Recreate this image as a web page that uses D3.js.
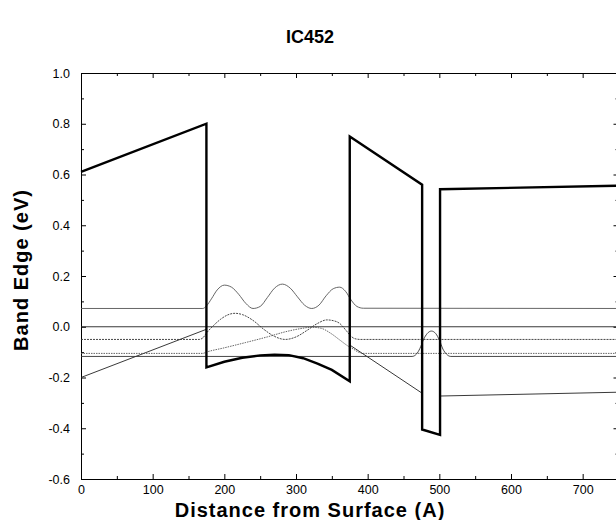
<!DOCTYPE html>
<html>
<head>
<meta charset="utf-8">
<script src="https://cdn.jsdelivr.net/npm/d3@7"></script>
<style>
  body { margin: 0; background: #fff; }
  svg { font-family: "Liberation Sans", Arial, sans-serif; }
</style>
</head>
<body>
<svg id="chart" width="616" height="520"></svg>
<script>
// tick values
var xMajor = [0, 100, 200, 300, 400, 500, 600, 700];
var xMinor = [50, 150, 250, 350, 450, 550, 650, 750];
var yMajor = [-0.6, -0.4, -0.2, 0.0, 0.2, 0.4, 0.6, 0.8, 1.0];
var yMinor = [-0.5, -0.3, -0.1, 0.1, 0.3, 0.5, 0.7, 0.9];

// conduction band edge (thick line)
var condBand = [[0, 0.61], [175, 0.80], [175, -0.16], [200, -0.138], [225, -0.122],
	[250, -0.113], [270, -0.110], [290, -0.112], [310, -0.124], [330, -0.145],
	[350, -0.170], [375, -0.215], [375, 0.75], [476, 0.56], [476, -0.405],
	[501, -0.426], [501, 0.542], [750, 0.556]];

// lower band edge (thin, leaves the frame inside the wells)
var lowBand = [[0, -0.20], [175, -0.01], null, [375, -0.072], [476, -0.262], null,
	[501, -0.273], [750, -0.258]];

// fermi level
var fermi = [[0, 0.0], [750, 0.0]];

// subband levels with |psi|^2 drawn on top
var state3 = [[0, 0.072], [170, 0.072], [175, 0.082], [182, 0.11], [190, 0.145], [200, 0.164],
	[210, 0.156], [220, 0.128], [230, 0.092], [240, 0.072], [250, 0.08], [260, 0.115],
	[270, 0.152], [281, 0.168], [292, 0.152], [302, 0.118], [312, 0.085], [322, 0.072],
	[332, 0.085], [342, 0.122], [352, 0.15], [361, 0.156], [369, 0.14], [377, 0.105],
	[385, 0.08], [394, 0.073], [750, 0.072]];
var state2 = [[0, -0.05], [165, -0.05], [170, -0.044], [175, -0.025], [185, 0.005],
	[195, 0.03], [205, 0.047], [215, 0.053], [225, 0.048], [240, 0.025], [255, -0.01],
	[270, -0.038], [285, -0.05], [300, -0.04], [315, -0.015], [330, 0.013], [343, 0.027],
	[352, 0.024], [361, 0.013], [370, -0.015], [376, -0.035], [382, -0.047], [390, -0.05],
	[750, -0.05]];
var state1 = [[0, -0.105], [170, -0.105], [175, -0.100], [200, -0.083], [230, -0.062],
	[260, -0.040], [285, -0.020], [305, -0.008], [322, -0.002], [335, -0.006],
	[348, -0.025], [361, -0.052], [372, -0.075], [380, -0.088], [387, -0.100],
	[395, -0.105], [750, -0.105]];
var stateNarrow = [[0, -0.117], [462, -0.117], [468, -0.108], [473, -0.085], [478, -0.05],
	[483, -0.027], [489, -0.017], [495, -0.027], [500, -0.052], [505, -0.088],
	[510, -0.108], [516, -0.117], [750, -0.117]];

var svg = d3.select("#chart"),
	x = d3.scaleLinear().domain([0, 750]).range([81, 618.5]),
	y = d3.scaleLinear().domain([-0.6, 1.0]).range([479, 73]);

function fmtY(d) { return d.toFixed(1); }

function axisGroup(axis, tx, ty) {
	var g = svg.append("g")
		.attr("transform", "translate(" + tx + "," + ty + ")")
		.call(axis);
	g.select(".domain").attr("stroke", "#000").attr("stroke-width", 1);
	g.selectAll(".tick line").attr("stroke", "#000");
	g.selectAll(".tick text").attr("fill", "#000").attr("font-size", 12.5);
	return g;
}

// frame and ticks (all ticks point inward)
axisGroup(d3.axisBottom(x).tickValues(xMajor).tickSize(-5).tickSizeOuter(0).tickPadding(6)
	.tickFormat(d3.format("d")), 0, 479);
axisGroup(d3.axisBottom(x).tickValues(xMinor).tickSize(-3).tickSizeOuter(0).tickFormat(""), 0, 479);
axisGroup(d3.axisTop(x).tickValues(xMajor).tickSize(-5).tickSizeOuter(0).tickFormat(""), 0, 73);
axisGroup(d3.axisTop(x).tickValues(xMinor).tickSize(-3).tickSizeOuter(0).tickFormat(""), 0, 73);
axisGroup(d3.axisLeft(y).tickValues(yMajor).tickSize(-5).tickSizeOuter(0).tickPadding(11)
	.tickFormat(fmtY), 81, 0);
axisGroup(d3.axisLeft(y).tickValues(yMinor).tickSize(-3).tickSizeOuter(0).tickFormat(""), 81, 0);
axisGroup(d3.axisRight(y).tickValues(yMajor).tickSize(-5).tickSizeOuter(0).tickFormat(""), 618.5, 0);
axisGroup(d3.axisRight(y).tickValues(yMinor).tickSize(-3).tickSizeOuter(0).tickFormat(""), 618.5, 0);

var line = d3.line()
	.defined(function(d) { return d; })
	.x(function(d) { return x(d[0]); })
	.y(function(d) { return y(d[1]); });
var smooth = d3.line()
	.curve(d3.curveMonotoneX)
	.x(function(d) { return x(d[0]); })
	.y(function(d) { return y(d[1]); });

function drawLine(data, gen, color, width, dash) {
	svg.append("path")
		.datum(data)
		.attr("d", gen)
		.attr("fill", "none")
		.attr("stroke", color)
		.attr("stroke-width", width)
		.attr("stroke-dasharray", dash || null)
		.attr("stroke-linejoin", "miter");
}

drawLine(fermi, line, "#222", 0.9);
drawLine(lowBand, line, "#222", 0.9);
drawLine(state3, smooth, "#555", 0.9);
drawLine(state2, smooth, "#333", 0.9, "2,1");
drawLine(state1, smooth, "#555", 0.9, "1.5,1");
drawLine(stateNarrow, smooth, "#333", 0.9);
drawLine(condBand, line, "#000", 2.4);

// titles
svg.append("text")
	.attr("x", 310).attr("y", 43)
	.attr("text-anchor", "middle")
	.attr("font-size", 18).attr("font-weight", "bold")
	.text("IC452");
svg.append("text")
	.attr("x", 310).attr("y", 517)
	.attr("text-anchor", "middle")
	.attr("font-size", 20).attr("font-weight", "bold")
	.attr("letter-spacing", 1)
	.text("Distance from Surface (A)");
svg.append("text")
	.attr("transform", "translate(28,270) rotate(-90)")
	.attr("text-anchor", "middle")
	.attr("font-size", 20).attr("font-weight", "bold")
	.attr("letter-spacing", 1)
	.text("Band Edge (eV)");
</script>
</body>
</html>
